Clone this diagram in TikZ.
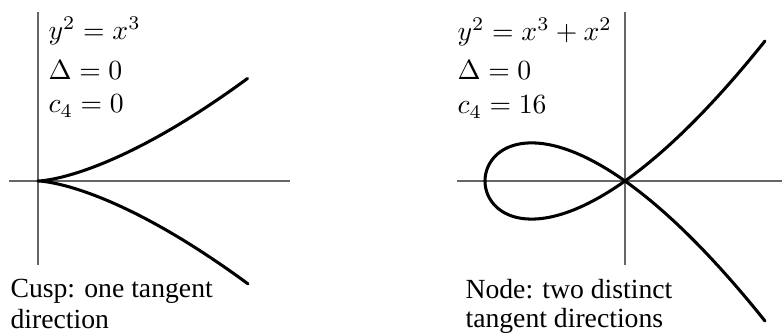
\documentclass[tikz,border=0pt]{standalone}
\usepackage[no-math]{fontspec}
\setmainfont{Liberation Serif}
\usetikzlibrary{calc}

\begin{document}
\begin{tikzpicture}[x=0.0127cm, y=0.0127cm, every node/.style={font=\fontsize{10}{12}\selectfont, inner sep=0pt, anchor=base west},
    axis/.style={gray!80!black, line width=0.45pt},
    curve/.style={black, line width=1.1pt, line join=round, line cap=round}]
  \useasboundingbox (0,0) rectangle (782,335);
  % Cusp: y^2 = x^3
  \coordinate (o1) at (38,154);
  \draw[axis] (9,154) -- (290,154);
  \draw[axis] (38,70) -- (38,323);
  \draw[curve, shift={(o1)}, xscale=140, yscale=56]
    plot[domain=-1.2247:1.2247, samples=121, smooth] ({\x*\x},{\x*\x*\x});
  \node (eqcusp) at (48,295) {$y^2=x^3$};
  \node (disccusp) at (48,255) {$\Delta=0$};
  \node (ccusp) at (48,222) {$c_4=0$};
  \node (capcusp) at (10,37) {Cusp: one tangent};
  \node (capcuspb) at (10,6) {direction};
  % Node: y^2 = x^3 + x^2
  \coordinate (o2) at (625,154);
  \draw[axis] (457,154) -- (782,154);
  \draw[axis] (625,70) -- (625,323);
  \draw[curve, shift={(o2)}, xscale=140, yscale=99]
    plot[domain=-1.4142:1.4142, samples=141, smooth] ({\x*\x-1},{\x*(\x*\x-1)});
  \node (eqnode) at (457,294) {$y^2=x^3+x^2$};
  \node (discnode) at (457,255) {$\Delta=0$};
  \node (cnode) at (457,221) {$c_4=16$};
  \node (capnode) at (465,36) {Node: two distinct};
  \node (capnodeb) at (465,7) {tangent directions};
\end{tikzpicture}
\end{document}
